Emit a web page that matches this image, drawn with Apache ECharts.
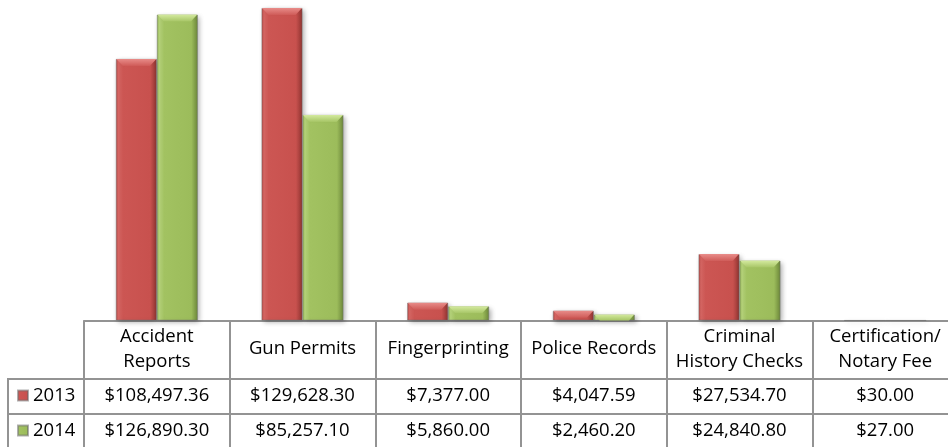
<!DOCTYPE html>
<html>
<head>
<meta charset="utf-8">
<script src="https://cdn.jsdelivr.net/npm/echarts@6/dist/echarts.min.js"></script>
<style>
  html, body { margin: 0; padding: 0; background: #ffffff; }
  #chart { width: 948px; height: 447px; }
</style>
</head>
<body>
<div id="chart"></div>
<script>
// Fee revenue by service, 2013 vs 2014
const categories = [
  'Accident\nReports',
  'Gun Permits',
  'Fingerprinting',
  'Police Records',
  'Criminal\nHistory Checks',
  'Certification/\nNotary Fee'
];
const seriesNames = ['2013', '2014'];
const values2013 = [108497.36, 129628.30, 7377.00, 4047.59, 27534.70, 30.00];
const values2014 = [126890.30, 85257.10, 5860.00, 2460.20, 24840.80, 27.00];

const FONT = 'Open Sans';
const FONT_SIZE = 18.5;
const LINE = '#939393';
const BAR_W = 41;
const BEVEL = 7;

function money(v) {
  const parts = v.toFixed(2).split('.');
  parts[0] = parts[0].replace(/\B(?=(\d{3})+(?!\d))/g, ',');
  return '$' + parts.join('.');
}

function hGrad(stops) {
  return new echarts.graphic.LinearGradient(0, 0, 1, 0,
    stops.map(s => ({ offset: s[0], color: s[1] })));
}
function vGrad(top, bottom) {
  return new echarts.graphic.LinearGradient(0, 0, 0, 1,
    [{ offset: 0, color: top }, { offset: 1, color: bottom }]);
}

const palette = {
  '2013': {
    body: hGrad([[0, '#B24643'], [0.06, '#D96764'], [0.18, '#CC5653'], [0.84, '#C8514E'], [1, '#8F3431']]),
    bevelTop: '#E88C89', bevelBottom: '#CF5B58'
  },
  '2014': {
    body: hGrad([[0, '#8EAE4E'], [0.06, '#B8D67C'], [0.18, '#A2C261'], [0.84, '#9CBC5B'], [1, '#6C873A']]),
    bevelTop: '#D4EA9F', bevelBottom: '#A6C565'
  }
};

function barSeries(name, values) {
  return {
    type: 'bar',
    name: name,
    data: values,
    barWidth: BAR_W,
    barGap: '0%',
    z: 2,
    itemStyle: {
      color: palette[name].body,
      borderColor: 'rgba(110,110,110,0.55)',
      borderWidth: 0.8,
      shadowBlur: 5,
      shadowColor: 'rgba(0,0,0,0.35)',
      shadowOffsetX: 2,
      shadowOffsetY: 2
    }
  };
}

// Light top bevel drawn on each bar, sized from the bar's own value
function bevelSeries(name, values, side) {
  return {
    type: 'custom',
    name: name + ' bevel',
    silent: true,
    z: 3,
    data: values.map((v, i) => [i, v]),
    encode: { x: 0, y: 1 },
    renderItem(params, api) {
      const i = api.value(0);
      const v = api.value(1);
      const top = api.coord([i, v]);
      const base = api.coord([i, 0]);
      const h = Math.min(BEVEL, base[1] - top[1]);
      if (h <= 0.5) return null;
      const x0 = side < 0 ? top[0] - BAR_W : top[0];
      const y0 = top[1];
      return {
        type: 'polygon',
        shape: {
          points: [[x0 + 0.5, y0], [x0 + BAR_W - 0.5, y0], [x0 + BAR_W - h, y0 + h], [x0 + h, y0 + h]]
        },
        style: { fill: vGrad(palette[name].bevelTop, palette[name].bevelBottom) }
      };
    }
  };
}

const labelBase = { interval: 0, color: '#000', fontFamily: FONT, fontSize: FONT_SIZE, verticalAlign: 'middle' };

function legendFor(name, top) {
  return {
    data: [name],
    orient: 'vertical',
    left: 17,
    top: top,
    padding: 0,
    itemWidth: 10,
    itemHeight: 10,
    icon: 'rect',
    selectedMode: false,
    textStyle: { color: '#000', fontFamily: FONT, fontSize: FONT_SIZE }
  };
}

const option = {
  animation: false,
  backgroundColor: '#ffffff',
  grid: { left: 84, top: -17, width: 874, height: 337.5, containLabel: false, outerBoundsMode: 'none' },
  legend: [legendFor('2013', 386), legendFor('2014', 421)],
  xAxis: [
    {
      type: 'category',
      data: categories,
      position: 'bottom',
      axisLine: { show: true, lineStyle: { color: LINE, width: 2 } },
      axisTick: { show: true, interval: 0, length: 130, lineStyle: { color: LINE, width: 2 } },
      axisLabel: Object.assign({}, labelBase, { margin: 28.5, lineHeight: 25, align: 'center' })
    },
    {
      type: 'category',
      data: categories,
      position: 'bottom',
      offset: 58.5,
      axisLine: { show: true, lineStyle: { color: LINE, width: 2 } },
      axisTick: { show: false },
      axisLabel: Object.assign({}, labelBase, { margin: 17, formatter: (v, i) => money(values2013[i]) })
    },
    {
      type: 'category',
      data: categories,
      position: 'bottom',
      offset: 93.5,
      axisLine: { show: true, lineStyle: { color: LINE, width: 2 } },
      axisTick: { show: false },
      axisLabel: Object.assign({}, labelBase, { margin: 17, formatter: (v, i) => money(values2014[i]) })
    }
  ],
  yAxis: { type: 'value', min: 0, max: 140000, show: false },
  graphic: [
    { type: 'line', shape: { x1: 8, y1: 379, x2: 85, y2: 379 }, style: { stroke: LINE, lineWidth: 2 } },
    { type: 'line', shape: { x1: 8, y1: 414, x2: 85, y2: 414 }, style: { stroke: LINE, lineWidth: 2 } },
    { type: 'line', shape: { x1: 8, y1: 378, x2: 8, y2: 447 }, style: { stroke: LINE, lineWidth: 2 } }
  ],
  series: [
    barSeries('2013', values2013),
    barSeries('2014', values2014),
    bevelSeries('2013', values2013, -1),
    bevelSeries('2014', values2014, 1)
  ]
};

const chart = echarts.init(document.getElementById('chart'), null, { renderer: 'canvas' });
chart.setOption(option);
</script>
</body>
</html>
